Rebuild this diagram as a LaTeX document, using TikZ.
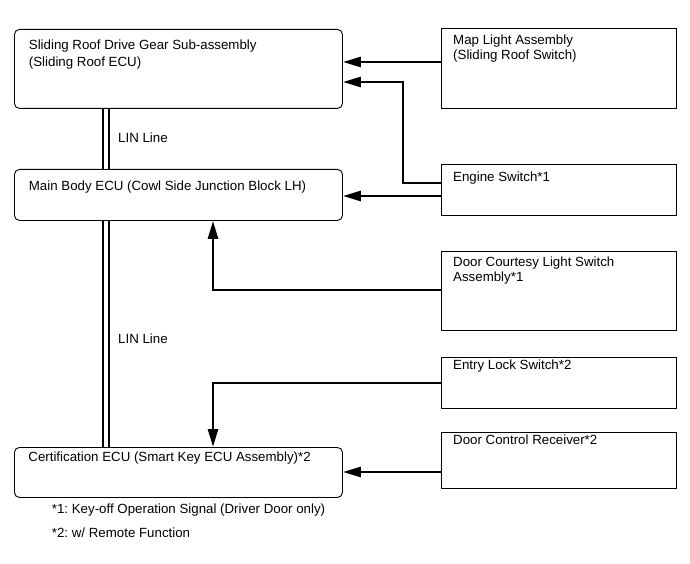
\documentclass[tikz,border=0pt]{standalone}
\usepackage{fontspec}
\setmainfont{Liberation Sans}
\usetikzlibrary{arrows.meta}
\frenchspacing
\begin{document}
\begin{tikzpicture}[x=1pt,y=-1pt,
  lbox/.style={draw, line width=0.9pt, rounded corners=5pt, anchor=north west, inner sep=0pt},
  rbox/.style={draw, line width=0.9pt, anchor=north west, inner sep=0pt},
  txt/.style={anchor=base west, inner sep=0pt, font=\fontsize{13.3}{16}\selectfont},
  arr/.style={line width=2.6pt, -{Triangle[length=18pt,width=10pt]}},
  lin/.style={double, double distance=3.8pt, line width=1.8pt}]
\useasboundingbox (0,0) rectangle (690,564);
% left boxes
\node[lbox, minimum width=328pt, minimum height=79pt] (sr) at (14,29) {};
\node[lbox, minimum width=328pt, minimum height=51pt] (mb) at (14,169) {};
\node[lbox, minimum width=328pt, minimum height=50pt] (ce) at (14,447) {};
% right boxes
\node[rbox, minimum width=235pt, minimum height=80pt] (ml) at (441,28) {};
\node[rbox, minimum width=235pt, minimum height=51pt] (es) at (441,164) {};
\node[rbox, minimum width=235pt, minimum height=79pt] (dc) at (441,251) {};
\node[rbox, minimum width=235pt, minimum height=51pt] (el) at (441,357) {};
\node[rbox, minimum width=235pt, minimum height=56pt] (dr) at (441,432) {};
% texts
\node[txt] (srt1) at (28.7,49.5) {Sliding Roof Drive Gear Sub-assembly};
\node[txt] (srt2) at (28.7,66.2) {(Sliding Roof ECU)};
\node[txt] (mbt) at (28.7,190.2) {Main Body ECU (Cowl Side Junction Block LH)};
\node[txt] (cet) at (28.2,461.7) {Certification ECU (Smart Key ECU Assembly)*2};
\node[txt] (mlt1) at (453,44.7) {Map Light Assembly};
\node[txt] (mlt2) at (453,59.7) {(Sliding Roof Switch)};
\node[txt] (est) at (453,181.4) {Engine Switch*1};
\node[txt] (dct1) at (453,266.4) {Door Courtesy Light Switch};
\node[txt] (dct2) at (453,281.4) {Assembly*1};
\node[txt] (elt) at (453,369.7) {Entry Lock Switch*2};
\node[txt] (drt) at (453,444.7) {Door Control Receiver*2};
\node[txt] (lin1) at (118,143) {LIN Line};
\node[txt] (lin2) at (118,343) {LIN Line};
\node[txt] (fn1) at (51.7,513.7) {*1: Key-off Operation Signal (Driver Door only)};
\node[txt] (fn2) at (51.7,537.7) {*2: w/ Remote Function};
% LIN lines
\draw[lin] (sr.south -| 106,0) -- (mb.north -| 106,0);
\draw[lin] (mb.south -| 106,0) -- (ce.north -| 106,0);
% arrows
\draw[arr] (ml.west |- 0,62) -- (sr.east |- 0,62);
\draw[arr] (es.west |- 0,183) -| (403,82) -- (sr.east |- 0,82);
\draw[arr] (es.west |- 0,196) -- (mb.east |- 0,196);
\draw[arr] (dc.west |- 0,290) -| (mb.south -| 213,0);
\draw[arr] (el.west |- 0,383) -| (ce.north -| 213,0);
\draw[arr] (dr.west |- 0,472) -- (ce.east |- 0,472);
\end{tikzpicture}
\end{document}
